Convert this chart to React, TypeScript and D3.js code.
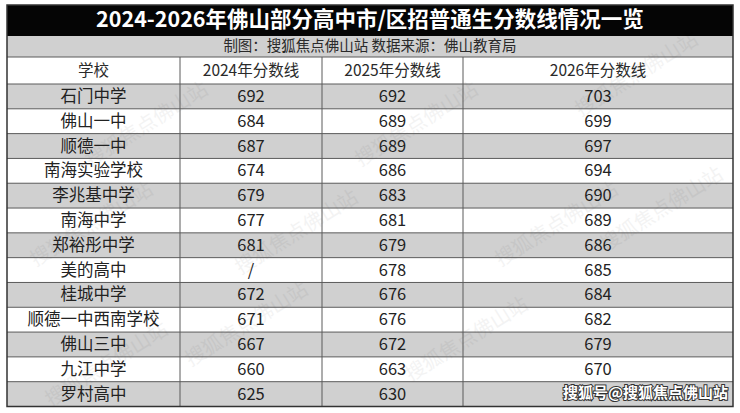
import { useMemo } from "react";
import * as d3 from "d3";

const TITLE = "2024-2026年佛山部分高中市/区招普通生分数线情况一览";
const SUBTITLE = "制图：搜狐焦点佛山站 数据来源：佛山教育局";
const HEADERS = ["学校", "2024年分数线", "2025年分数线", "2026年分数线"];

const schools = [
  "石门中学", "佛山一中", "顺德一中", "南海实验学校", "李兆基中学", "南海中学",
  "郑裕彤中学", "美的高中", "桂城中学", "顺德一中西南学校", "佛山三中", "九江中学", "罗村高中",
];
const score2024 = ["692", "684", "687", "674", "679", "677", "681", "/", "672", "671", "667", "660", "625"];
const score2025 = ["692", "689", "689", "686", "683", "681", "679", "678", "676", "676", "672", "663", "630"];
// last 2026 value is covered by the watermark in the source
const score2026 = ["703", "699", "697", "694", "690", "689", "686", "685", "684", "682", "679", "670", ""];

const W = 740;
const H = 413;
const FONT = "'Noto Sans CJK SC', 'Noto Sans', sans-serif";
const GRAY = "#d0d0d0";
const LINE = "#5a5a5a";

// column edges of the table
const colEdges = [7, 180, 322, 463, 733];

export default function App() {
  const columns = [schools, score2024, score2025, score2026];

  const y = useMemo(
    () => d3.scaleBand<number>().domain(d3.range(schools.length)).range([84, 406.5]).padding(0),
    []
  );
  const left = colEdges[0];
  const right = colEdges[colEdges.length - 1];
  const titleTop = 5, titleBot = 36, subBot = 57, headBot = 84;
  const bottom = y.range()[1];

  // faint diagonal watermarks, kept inside the table
  const marks = [
    { x: 95, y: 230 }, { x: 300, y: 238 }, { x: 560, y: 230 }, { x: 665, y: 215 },
    { x: 250, y: 330 }, { x: 470, y: 345 }, { x: 110, y: 370 }, { x: 640, y: 80 },
    { x: 420, y: 130 }, { x: 150, y: 130 },
  ];

  return (
    <svg width={W} height={H} style={{ position: "absolute", left: 0, top: 0, background: "#fff" }}
      fontFamily={FONT}>
      <rect x={0} y={0} width={W} height={H} fill="#fff" />

      {/* title bar */}
      <rect x={left} y={titleTop} width={right - left} height={titleBot - titleTop} fill="#050505" />
      <text x={(left + right) / 2} y={(titleTop + titleBot) / 2 + 1} fill="#fff" fontSize={21.5}
        fontWeight={700} textAnchor="middle" dominantBaseline="middle">{TITLE}</text>

      {/* subtitle */}
      <rect x={left} y={titleBot} width={right - left} height={subBot - titleBot} fill={GRAY} />
      <text x={(left + right) / 2} y={(titleBot + subBot) / 2 + 1} fill="#2a2a2a" fontSize={14.5}
        textAnchor="middle" dominantBaseline="middle">{SUBTITLE}</text>

      {/* header */}
      <rect x={left} y={subBot} width={right - left} height={headBot - subBot} fill="#fff" />
      {HEADERS.map((h, i) => (
        <text key={h} x={(colEdges[i] + colEdges[i + 1]) / 2} y={(subBot + headBot) / 2 + 1}
          fill="#2a2a2a" fontSize={15.5} textAnchor="middle" dominantBaseline="middle">{h}</text>
      ))}

      {/* body rows */}
      {schools.map((_, r) => (
        <rect key={"bg" + r} x={left} y={y(r)!} width={right - left} height={y.bandwidth()}
          fill={r % 2 === 0 ? GRAY : "#fff"} />
      ))}

      {/* watermarks */}
      {marks.map((m, i) => (
        <text key={"wm" + i} x={m.x} y={m.y} fontSize={20} fill="#000" opacity={0.045}
          transform={`rotate(-32 ${m.x} ${m.y})`} textAnchor="middle">搜狐焦点佛山站</text>
      ))}

      {columns.map((col, c) =>
        col.map((v, r) => (
          <text key={c + "-" + r} x={(colEdges[c] + colEdges[c + 1]) / 2} y={y(r)! + y.bandwidth() / 2 + 1}
            fill="#222" fontSize={16.5} textAnchor="middle" dominantBaseline="middle">{v}</text>
        ))
      )}

      {/* grid lines */}
      {[subBot, headBot, ...schools.slice(1).map((_, r) => y(r + 1)!)].map((yy, i) => (
        <line key={"h" + i} x1={left} x2={right} y1={yy} y2={yy} stroke={LINE} strokeWidth={1} />
      ))}
      {colEdges.slice(1, -1).map((xx, i) => (
        <line key={"v" + i} x1={xx} x2={xx} y1={subBot} y2={bottom} stroke={LINE} strokeWidth={1} />
      ))}
      <rect x={left} y={titleTop} width={right - left} height={bottom - titleTop} fill="none"
        stroke="#333" strokeWidth={1.5} />

      {/* corner credit */}
      <text x={728} y={398} fontSize={15} fontWeight={700} textAnchor="end" fill="#fff"
        stroke="#333" strokeWidth={2} paintOrder="stroke">搜狐号@搜狐焦点佛山站</text>
    </svg>
  );
}
